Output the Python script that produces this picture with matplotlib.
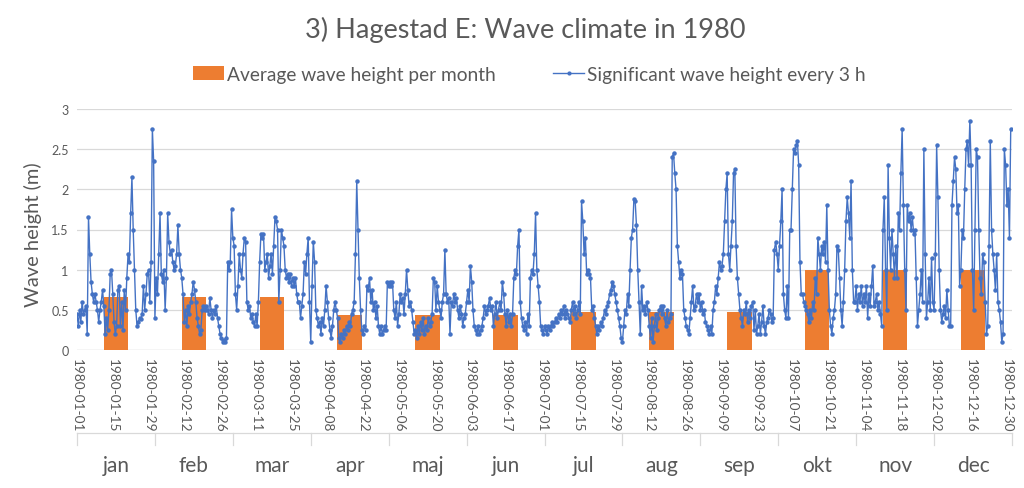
import numpy as np
import pandas as pd
import matplotlib
matplotlib.use("Agg")
import matplotlib.pyplot as plt
from matplotlib.patches import Patch
from matplotlib.lines import Line2D

plt.rcParams['font.family'] = ['Lato', 'DejaVu Sans']

# significant wave height (m) (00h, 12h)
hs_jan = [0.45, 0.30, 0.50, 0.35, 0.60, 0.45, 0.50, 0.55, 0.20, 1.65,
          1.20, 0.85, 0.70, 0.60, 0.70, 0.60, 0.50, 0.35, 0.50, 0.60,
          0.75, 0.55, 0.20, 0.40, 0.25, 0.50, 0.95, 1.00, 0.70, 0.35,
          0.20, 0.30, 0.75, 0.80, 0.30, 0.60, 0.25, 0.75, 0.50, 0.90,
          1.20, 1.10, 1.70, 2.15, 1.50, 1.00, 0.50, 0.30, 0.35, 0.40,
          0.38, 0.45, 0.80, 0.50, 0.70, 0.95, 1.00, 0.60, 1.10, 2.75,
          2.35, 0.40]
hs_feb = [0.90, 0.70, 1.20, 1.70, 0.95, 0.85, 1.00, 0.50, 0.90, 1.70,
          1.35, 1.20, 1.25, 1.10, 1.00, 1.05, 1.20, 1.55, 1.20, 1.00,
          0.90, 0.70, 0.35, 0.50, 0.30, 0.55, 0.45, 0.60, 0.70, 0.85,
          0.75, 0.60, 0.40, 0.30, 0.20, 0.25, 0.50, 0.55, 0.50, 0.55,
          0.50, 0.45, 0.65, 0.50, 0.40, 0.50, 0.45, 0.55, 0.40, 0.30,
          0.20, 0.15, 0.10, 0.12, 0.10, 0.15, 1.10, 1.00]
hs_mar = [1.10, 1.75, 1.40, 1.30, 0.70, 0.50, 0.80, 1.20, 1.00, 0.90,
          1.20, 1.40, 1.35, 0.60, 0.50, 0.55, 0.40, 0.45, 0.35, 0.30,
          0.45, 0.30, 0.60, 1.10, 1.45, 1.40, 1.45, 1.00, 1.10, 1.20,
          0.90, 1.05, 1.20, 0.95, 1.30, 1.65, 1.60, 1.50, 0.60, 1.00,
          1.50, 1.40, 1.30, 1.00, 0.90, 0.95, 0.85, 0.95, 0.80, 0.90,
          0.80, 0.90, 0.70, 0.60, 0.60, 0.40, 0.55, 0.70, 1.10, 0.95,
          1.20, 1.40]
hs_apr = [0.60, 0.10, 0.80, 1.35, 1.10, 0.50, 0.40, 0.30, 0.35, 0.20,
          0.40, 0.30, 0.50, 0.80, 0.60, 0.40, 0.25, 0.15, 0.30, 0.50,
          0.60, 0.50, 0.40, 0.15, 0.10, 0.20, 0.15, 0.25, 0.20, 0.30,
          0.25, 0.35, 0.30, 0.45, 0.50, 0.60, 1.20, 2.10, 1.50, 0.90,
          0.50, 0.25, 0.20, 0.30, 0.25, 0.80, 0.75, 0.90, 0.60, 0.75,
          0.50, 0.60, 0.40, 0.55, 0.30, 0.20, 0.30, 0.20, 0.25, 0.30]
hs_maj = [0.25, 0.85, 0.80, 0.85, 0.80, 0.85, 0.50, 0.40, 0.60, 0.30,
          0.45, 0.70, 0.60, 0.65, 0.45, 0.70, 1.00, 0.75, 0.55, 0.60,
          0.50, 0.35, 0.20, 0.25, 0.15, 0.30, 0.20, 0.35, 0.25, 0.40,
          0.20, 0.30, 0.25, 0.40, 0.30, 0.35, 0.45, 0.90, 0.85, 0.50,
          0.80, 0.60, 0.50, 0.40, 0.60, 0.70, 1.25, 0.70, 0.60, 0.65,
          0.20, 0.60, 0.55, 0.70, 0.60, 0.65, 0.50, 0.40, 0.55, 0.45,
          0.30, 0.40]
hs_jun = [0.45, 0.60, 0.75, 0.60, 1.05, 0.85, 0.50, 0.30, 0.25, 0.20,
          0.30, 0.20, 0.25, 0.30, 0.40, 0.55, 0.45, 0.50, 0.55, 0.65,
          0.50, 0.55, 0.30, 0.45, 0.60, 0.40, 0.50, 0.60, 0.50, 0.85,
          0.70, 0.45, 0.30, 0.50, 0.35, 0.45, 0.30, 0.45, 0.90, 1.00,
          0.95, 1.30, 1.50, 0.60, 0.40, 0.30, 0.25, 0.35, 0.20, 0.45,
          0.30, 0.90, 1.00, 0.95, 1.20, 1.70, 1.00, 0.80, 0.60, 0.30]
hs_jul = [0.25, 0.20, 0.30, 0.25, 0.20, 0.30, 0.25, 0.30, 0.35, 0.30,
          0.35, 0.40, 0.35, 0.45, 0.40, 0.50, 0.45, 0.55, 0.40, 0.50,
          0.45, 0.40, 0.35, 0.50, 0.60, 0.45, 0.55, 0.40, 0.50, 0.60,
          0.45, 1.85, 1.60, 1.20, 1.40, 0.95, 1.00, 0.95, 0.90, 0.50,
          0.55, 0.40, 0.30, 0.20, 0.30, 0.25, 0.35, 0.30, 0.40, 0.50,
          0.45, 0.55, 0.60, 0.70, 0.75, 0.85, 0.80, 0.70, 0.60, 0.50,
          0.40, 0.30]
hs_aug = [0.15, 0.10, 0.30, 0.50, 0.45, 0.70, 0.55, 1.00, 1.40, 1.50,
          1.88, 1.85, 1.55, 1.00, 0.60, 0.20, 0.80, 0.50, 0.55, 0.45,
          0.60, 0.50, 0.30, 0.15, 0.40, 0.10, 0.30, 0.45, 0.25, 0.40,
          0.50, 0.55, 0.45, 0.55, 0.40, 0.30, 0.50, 0.35, 0.40, 0.45,
          2.40, 2.45, 2.20, 2.00, 1.30, 1.10, 0.90, 1.00, 0.95, 0.50,
          0.40, 0.30, 0.25, 0.20, 0.40, 0.60, 0.80, 0.50, 0.55, 0.70,
          0.60, 0.70]
hs_sep = [0.50, 0.60, 0.45, 0.50, 0.35, 0.30, 0.25, 0.20, 0.30, 0.20,
          0.50, 0.60, 0.80, 0.70, 0.90, 1.10, 1.00, 1.05, 1.20, 1.60,
          2.00, 2.20, 1.20, 1.00, 1.30, 1.60, 2.20, 2.25, 1.30, 0.90,
          0.70, 0.50, 0.40, 0.30, 0.50, 0.45, 0.60, 0.35, 0.50, 0.40,
          0.55, 0.60, 0.25, 0.50, 0.20, 0.30, 0.45, 0.20, 0.35, 0.55,
          0.30, 0.20, 0.35, 0.40, 0.50, 0.45, 0.35, 0.40, 1.25, 1.35]
hs_okt = [1.20, 1.00, 1.30, 1.60, 2.00, 0.70, 0.50, 0.40, 0.80, 0.40,
          1.50, 1.50, 2.00, 2.50, 2.45, 2.55, 2.60, 2.30, 1.10, 0.70,
          0.70, 0.60, 0.55, 0.50, 0.45, 0.35, 0.50, 0.40, 0.60, 0.50,
          0.90, 0.70, 1.40, 1.20, 1.00, 1.30, 1.20, 1.35, 1.10, 1.80,
          1.00, 0.50, 0.30, 0.20, 0.40, 0.50, 0.70, 1.30, 1.25, 0.90,
          0.50, 0.30, 0.60, 1.00, 1.60, 1.90, 1.70, 1.40, 2.10, 1.00,
          0.60, 0.60]
hs_nov = [0.80, 0.50, 0.70, 0.60, 0.80, 0.55, 0.70, 0.60, 0.80, 0.40,
          0.70, 0.55, 0.80, 1.05, 0.55, 0.60, 0.70, 0.50, 0.60, 0.45,
          0.30, 1.50, 1.90, 1.00, 0.50, 2.30, 1.40, 1.00, 1.50, 1.20,
          0.90, 1.30, 0.90, 1.70, 1.50, 2.20, 2.75, 1.80, 1.00, 0.50,
          1.80, 1.60, 1.70, 1.50, 1.65, 1.45, 1.50, 0.90, 0.30, 0.50,
          0.70, 1.00, 0.60, 2.50, 1.20, 0.40, 0.60, 0.90, 0.50, 1.15]
hs_dec = [0.60, 0.50, 1.20, 2.55, 1.90, 1.00, 0.50, 0.35, 0.45, 0.55,
          0.40, 0.75, 0.50, 0.30, 0.30, 1.80, 2.10, 2.40, 2.25, 1.70,
          1.80, 0.80, 1.00, 1.50, 1.40, 2.00, 2.50, 2.60, 2.30, 2.85,
          2.30, 1.00, 0.50, 1.50, 2.50, 2.40, 1.50, 0.90, 0.70, 1.20,
          1.10, 0.60, 0.20, 0.30, 1.30, 2.60, 1.50, 1.20, 1.00, 0.75,
          1.20, 0.60, 0.50, 0.35, 0.10, 0.20, 2.50, 2.30, 1.80, 2.00,
          1.40, 2.75]

months = ['jan', 'feb', 'mar', 'apr', 'maj', 'jun',
          'jul', 'aug', 'sep', 'okt', 'nov', 'dec']
monthly_avg = [0.66, 0.66, 0.66, 0.44, 0.44, 0.44,
               0.47, 0.47, 0.47, 0.99, 0.99, 0.99]

date_labels = ['1980-01-01', '1980-01-15', '1980-01-29', '1980-02-12', '1980-02-26',
               '1980-03-11', '1980-03-25', '1980-04-08', '1980-04-22', '1980-05-06',
               '1980-05-20', '1980-06-03', '1980-06-17', '1980-07-01', '1980-07-15',
               '1980-07-29', '1980-08-12', '1980-08-26', '1980-09-09', '1980-09-23',
               '1980-10-07', '1980-10-21', '1980-11-04', '1980-11-18', '1980-12-02',
               '1980-12-16', '1980-12-30']

hs = np.array(hs_jan + hs_feb + hs_mar + hs_apr + hs_maj + hs_jun +
              hs_jul + hs_aug + hs_sep + hs_okt + hs_nov + hs_dec)
t = np.arange(len(hs)) * 0.5  # days since 1980-01-01
year_days = 366
cat_w = year_days / len(months)
cat_centers = (np.arange(len(months)) + 0.5) * cat_w
tick_days = (pd.to_datetime(date_labels) - pd.Timestamp('1980-01-01')).days

grey = '#595959'
orange = '#ED7D31'
blue = '#4472C4'

fig = plt.figure(figsize=(10.24, 4.89), dpi=100)
ax = fig.add_axes([77 / 1024, 1 - 351 / 489, (1012 - 77) / 1024, 241 / 489])

ax.bar(cat_centers, monthly_avg, width=9.6, color=orange, zorder=2)
ax.plot(t, hs, color=blue, lw=1.0, marker='o', markersize=2.2, zorder=3)

ax.set_xlim(0, year_days)
ax.set_ylim(0, 3)
ax.set_yticks(np.arange(0, 3.01, 0.5))
ax.set_yticklabels(['0', '0.5', '1', '1.5', '2', '2.5', '3'])
ax.grid(axis='y', color='#d9d9d9', lw=0.9, zorder=0)
ax.set_axisbelow(True)
for s in ax.spines.values():
    s.set_visible(False)
ax.axhline(0, color='#d9d9d9', lw=0.9, zorder=1)

ax.set_xticks(tick_days)
ax.set_xticklabels(date_labels, rotation=-90, fontsize=9.8, color=grey)
ax.tick_params(axis='x', length=0, pad=6)
ax.tick_params(axis='y', length=0, labelsize=9, labelcolor=grey, pad=6)

# month group axis below the dates
tr = ax.get_xaxis_transform()
ax.plot([0, year_days], [-0.344, -0.344], color='#d9d9d9', lw=0.9,
        transform=tr, clip_on=False)
for i in range(len(months) + 1):
    ax.plot([i * cat_w, i * cat_w], [-0.344, -0.394], color='#d9d9d9', lw=0.9,
            transform=tr, clip_on=False)
for c, m in zip(cat_centers, months):
    ax.text(c, -0.477, m, transform=tr, ha='center', va='center',
            fontsize=15, color=grey)

fig.text(33 / 1024, 1 - 235 / 489, 'Wave height (m)', rotation=90,
         ha='center', va='center', fontsize=14.5, color=grey)
fig.text(0.513, 1 - 30 / 489, '3) Hagestad E: Wave climate in 1980',
         ha='center', va='center', fontsize=19.5, color=grey)

handles = [Patch(facecolor=orange),
           Line2D([], [], color=blue, lw=1, marker='o', markersize=2)]
fig.legend(handles, ['Average wave height per month', 'Significant wave height every 3 h'],
           loc='center', bbox_to_anchor=(0.517, 1 - 75 / 489), ncol=2, frameon=False,
           fontsize=13.8, handlelength=1.6, handletextpad=0.15, columnspacing=3.0,
           labelcolor=grey)

fig.savefig('out.png', dpi=100)
